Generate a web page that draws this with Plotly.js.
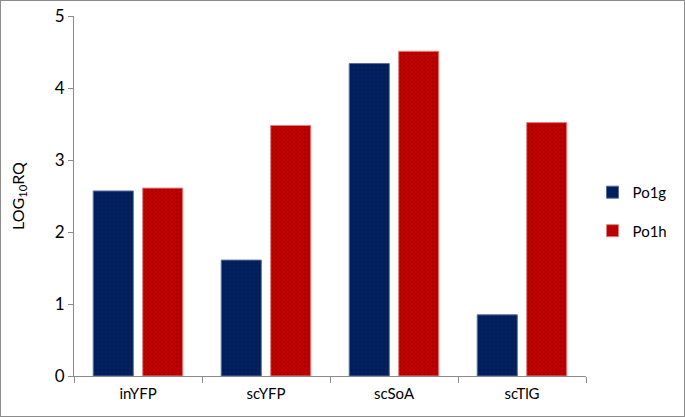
<!DOCTYPE html>
<html><head><meta charset="utf-8">
<script src="https://cdn.plot.ly/plotly-3.0.1.min.js"></script>
<style>
html,body{margin:0;padding:0;background:#fff;}
#wrap{position:relative;width:685px;height:417px;}
#chart{width:685px;height:417px;}
#frame{position:absolute;left:0;top:0;width:683px;height:415px;border:1px solid #8c8c8c;pointer-events:none;}
</style></head>
<body>
<div id="wrap"><div id="chart"></div><div id="frame"></div></div>
<script>
const categories = ["inYFP", "scYFP", "scSoA", "scTlG"];
const po1g = [2.57, 1.61, 4.34, 0.85];
const po1h = [2.61, 3.48, 4.51, 3.52];
const yTicks = [0, 1, 2, 3, 4, 5];

const font = "Lato, 'Open Sans', sans-serif";
function pat(){ return {shape: ".", fgcolor: "rgba(0,0,0,0.6)", size: 4, solidity: 0.1, fillmode: "overlay"}; }

const traces = [
  {type: "bar", name: "Po1g", x: categories, y: po1g, legendgroup: "a",
   marker: {color: "#002060", line: {color: "#5a6e9e", width: 1}, pattern: pat()}},
  {type: "bar", name: "Po1h", x: categories, y: po1h, legendgroup: "b",
   marker: {color: "#c00000", line: {color: "#e08080", width: 1}, pattern: pat()}}
];

const layout = {
  width: 685, height: 417,
  margin: {l: 74, r: 99, t: 16, b: 41},
  paper_bgcolor: "#fff", plot_bgcolor: "#fff",
  font: {family: font, color: "#000", size: 15},
  barmode: "group", bargap: 0.227, bargroupgap: 0.19,
  showlegend: true,
  legend: {xref: "container", yref: "container", x: 0.865, xanchor: "left", y: 0.493, yanchor: "middle",
           font: {size: 15, family: font}, tracegroupgap: 16, traceorder: "grouped"},
  xaxis: {type: "category", showline: true, linecolor: "#8c8c8c", linewidth: 1,
          ticks: "outside", tickson: "boundaries", ticklen: 6, tickcolor: "#8c8c8c",
          showgrid: false, tickfont: {size: 15}, ticklabelstandoff: 4, fixedrange: true},
  yaxis: {range: [0, 5], tickvals: yTicks, ticktext: yTicks.map(String),
          showline: true, linecolor: "#8c8c8c", linewidth: 1,
          ticks: "outside", ticklen: 5, tickcolor: "#8c8c8c", showgrid: false,
          zeroline: false, tickfont: {size: 17},
          title: {text: "LOG<sub>10</sub>RQ", font: {size: 16}, standoff: 26}}
};
Plotly.newPlot("chart", traces, layout, {displayModeBar: false, staticPlot: true});
</script>
</body></html>
